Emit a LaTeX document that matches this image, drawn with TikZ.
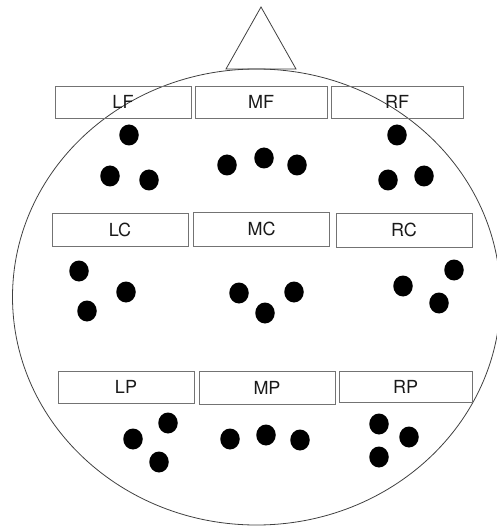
\documentclass[tikz,border=0pt]{standalone}
\usepackage{fontspec}
\setmainfont{TeX Gyre Heros}
\usetikzlibrary{shapes.geometric}

\tikzset{
	region/.style={draw=black!55, line width=0.8pt, minimum width=136pt, minimum height=32pt, inner sep=0pt, text=black!90, font=\fontsize{18}{21}\selectfont},
	electrode/.style={ellipse, fill=black, minimum width=19.5pt, minimum height=21pt, inner sep=0pt},
	headline/.style={draw=black!75, line width=0.8pt}
}

\begin{document}
\begin{tikzpicture}[x=1pt, y=-1pt]
	\useasboundingbox (0,0) rectangle (496,526);
	
	% head and nose
	\draw[headline] (256.5,297) ellipse[x radius=244, y radius=228];
	\draw[headline] (226,69) -- (261,7) -- (296,69) -- cycle;
	
	% frontal regions
	\node[region] (lf) at (123,102) {LF};
	\node[region, minimum width=132pt] (mf) at (261,102) {MF};
	\node[region, minimum width=132pt] (rf) at (397,102) {RF};
	
	% central regions
	\node[region, minimum height=33pt] (lc) at (120,229.5) {LC};
	\node[region, minimum height=34pt] (mc) at (261.5,229) {MC};
	\node[region, minimum height=34pt] (rc) at (404,230) {RC};
	
	% parietal regions
	\node[region] (lp) at (126,387) {LP};
	\node[region, minimum height=33pt] (mp) at (267,387.5) {MP};
	\node[region, minimum width=133pt, minimum height=31pt] (rp) at (405.5,386.5) {RP};
	
	% electrodes below each region
	\foreach \name/\x/\y in {lf1/129/135, lf2/110/176, lf3/149/180,
		mf1/227/165, mf2/264/158, mf3/297/165,
		rf1/397/135, rf2/388/180, rf3/424/176,
		lc1/79/271, lc2/126/292, lc3/87/311,
		mc1/239/293, mc2/265/313, mc3/294/292,
		rc1/403/286, rc2/454/270, rc3/439/303,
		lp1/133/439, lp2/168/423, lp3/159/462,
		mp1/230/439, mp2/266/435, mp3/300/440,
		rp1/379/424, rp2/409/437, rp3/379/457}
		\node[electrode] (\name) at (\x,\y) {};
	
\end{tikzpicture}
\end{document}
